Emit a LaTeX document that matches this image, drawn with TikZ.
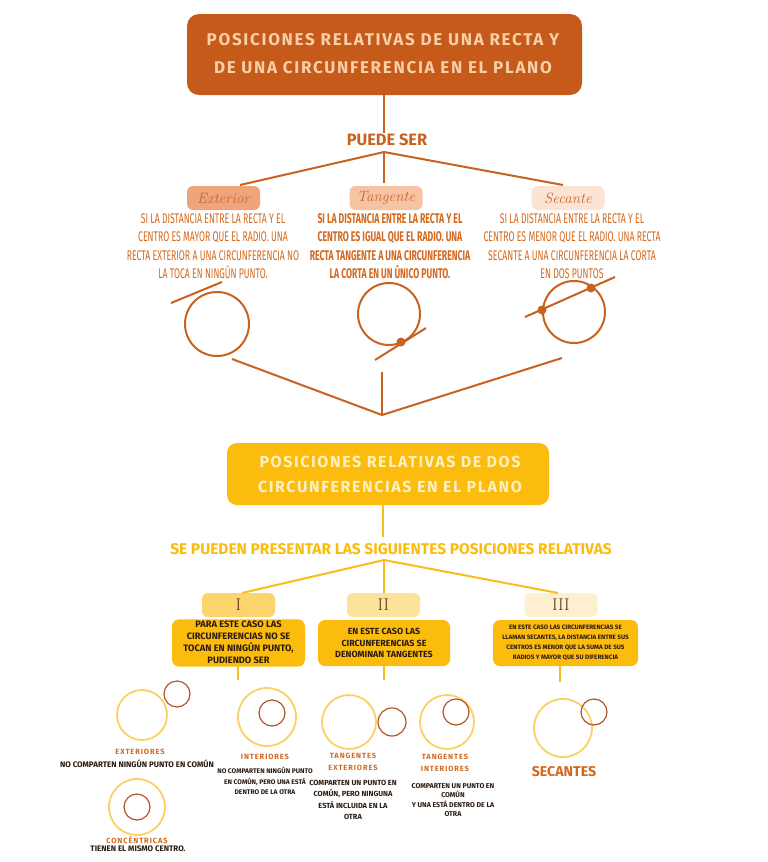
\documentclass[tikz,border=0pt]{standalone}
\usepackage{fontspec}
\setmainfont{Fira Sans}
\newfontfamily\cond[FakeStretch=0.62]{Fira Sans}
\newfontfamily\hand[LetterSpace=10]{Fira Sans}
\newfontfamily\spaced[LetterSpace=12]{Fira Sans}
\newfontfamily\lmr{Latin Modern Roman}
\definecolor{dorange}{HTML}{C55A1A}
\definecolor{peach}{HTML}{F9CFA8}
\definecolor{oline}{HTML}{C8631F}
\definecolor{otext}{HTML}{D2691E}
\definecolor{exfill}{HTML}{EFA57B}
\definecolor{tgfill}{HTML}{F6C4A3}
\definecolor{scfill}{HTML}{FCE4D4}
\definecolor{lbltext}{HTML}{C8652A}
\definecolor{yel}{HTML}{FBBC0E}
\definecolor{yeltext}{HTML}{FFF0C2}
\definecolor{yline}{HTML}{F9BE1A}
\definecolor{ione}{HTML}{FCD46C}
\definecolor{itwo}{HTML}{FDE29B}
\definecolor{ithree}{HTML}{FEF0CE}
\definecolor{roman}{HTML}{5A3A1E}
\definecolor{ycirc}{HTML}{FAD264}
\definecolor{bcirc}{HTML}{B4542B}
\definecolor{dtext}{HTML}{2A1A10}
\tikzset{
  oconn/.style={draw=oline, line width=2pt},
  yconn/.style={draw=yline, line width=2pt},
  ocirc/.style={draw=oline, line width=2pt},
  dotm/.style={circle, fill=oline, inner sep=0pt, minimum size=9pt},
  lblbox/.style={rounded corners=6pt, minimum width=73pt, minimum height=24pt, inner sep=0pt, text=lbltext, font=\lmr\itshape\fontsize{15}{15}\selectfont},
  desc/.style={align=center, text=otext, font=\cond\fontsize{14}{18.5}\selectfont},
  romanbox/.style={rounded corners=6pt, minimum width=73pt, minimum height=24pt, inner sep=0pt, text=roman, font=\lmr\fontsize{17}{17}\selectfont},
  ybox/.style={fill=yel, rounded corners=7pt, inner sep=0pt, align=center, text=dtext},
  yc/.style={draw=ycirc, line width=1.8pt},
  bc/.style={draw=bcirc, line width=1.2pt},
  smlbl/.style={text=otext, font=\spaced\bfseries\fontsize{7.5}{12}\selectfont, align=center},
  smtxt/.style={text=dtext, font=\bfseries\fontsize{8}{10.5}\selectfont, align=center}
}
\begin{document}
\begin{tikzpicture}[x=1pt,y=-1pt]
\useasboundingbox (0,0) rectangle (768,862);
\fill[white] (0,0) rectangle (768,862);
% ---------- top part ----------
\node[fill=dorange, rounded corners=12pt, minimum width=395pt, minimum height=81pt, inner sep=0pt] (title) at (384.5,54.5) {};
\node[text=peach, align=center, font=\hand\bfseries\fontsize{17}{28}\selectfont] (titletext) at (383,54) {POSICIONES RELATIVAS DE UNA RECTA Y\\DE UNA CIRCUNFERENCIA EN EL PLANO};
\node[text=oline, font=\bfseries\fontsize{16.4}{16.4}\selectfont, inner sep=1pt] (puede) at (387,140) {PUEDE SER};
\coordinate (apex1) at (384,152);
\draw[oconn] (title.south -| apex1) -- (puede.north -| apex1);
\node[lblbox, fill=exfill] (ext) at (223.5,198) {Exterior};
\node[lblbox, fill=tgfill] (tan) at (386,198) {Tangente};
\node[lblbox, fill=scfill] (sec) at (568,198) {Secante};
\draw[oconn] (apex1) -- (240,185);
\draw[oconn] (apex1) -- (384,183);
\draw[oconn] (apex1) -- (563,185);
\node[desc] (extd) at (213,246) {SI LA DISTANCIA ENTRE LA RECTA Y EL\\CENTRO ES MAYOR QUE EL RADIO. UNA\\RECTA EXTERIOR A UNA CIRCUNFERENCIA NO\\LA TOCA EN NINGÚN PUNTO.};
\node[desc, font=\cond\bfseries\fontsize{14}{18.5}\selectfont] (tand) at (390,246) {SI LA DISTANCIA ENTRE LA RECTA Y EL\\CENTRO ES IGUAL QUE EL RADIO. UNA\\RECTA TANGENTE A UNA CIRCUNFERENCIA\\LA CORTA EN UN ÚNICO PUNTO.};
\node[desc] (secd) at (572,246) {SI LA DISTANCIA ENTRE LA RECTA Y EL\\CENTRO ES MENOR QUE EL RADIO. UNA RECTA\\SECANTE A UNA CIRCUNFERENCIA LA CORTA\\EN DOS PUNTOS};
% figures
\draw[ocirc] (217,324) circle (32);
\coordinate (e1) at (171,303); \coordinate (e2) at (222,282);
\draw[oconn] (e1) -- (e2);
\draw[ocirc] (389,314) circle (31);
\coordinate (t1) at (375,360); \coordinate (t2) at (426,328);
\draw[oconn] (t1) -- (t2);
\node[dotm] (tdot) at (401,342) {};
\draw[ocirc] (574,312) circle (31);
\coordinate (s1) at (525,317); \coordinate (s2) at (615,277);
\draw[oconn] (s1) -- (s2);
\node[dotm] (sdot1) at (542,310) {};
\node[dotm] (sdot2) at (591,288) {};
% connectors down
\coordinate (apex2) at (382,415);
\coordinate (l1) at (232,359); \coordinate (l2) at (382,372); \coordinate (l3) at (562,358);
\draw[oconn] (l1) -- (apex2) -- (l3);
\draw[oconn] (l2) -- (apex2);
% ---------- bottom part ----------
\node[fill=yel, rounded corners=10pt, minimum width=322pt, minimum height=62pt, inner sep=0pt] (ytitle) at (388,474) {};
\node[text=yeltext, align=center, font=\hand\bfseries\fontsize{16}{25}\selectfont] (ytitletext) at (390,474) {POSICIONES RELATIVAS DE DOS\\CIRCUNFERENCIAS EN EL PLANO};
\node[text=yel, font=\bfseries\fontsize{15.5}{15.5}\selectfont, inner sep=1pt] (sepueden) at (391,549) {SE PUEDEN PRESENTAR LAS SIGUIENTES POSICIONES RELATIVAS};
\draw[yconn] (ytitle.south -| 383,0) -- (383,537);
\coordinate (apex3) at (384,560);
\node[romanbox, fill=ione] (r1) at (238.5,605) {I};
\node[romanbox, fill=itwo] (r2) at (383.5,605) {II};
\node[romanbox, fill=ithree] (r3) at (561,605) {III};
\draw[yconn] (apex3) -- (242,593);
\draw[yconn] (apex3) -- (384,593);
\draw[yconn] (apex3) -- (558,593);
\node[ybox, minimum width=133pt, minimum height=46pt, font=\bfseries\fontsize{9.3}{11.6}\selectfont] (b1) at (238.5,643) {\raisebox{-1.5pt}{\begin{tabular}{@{}c@{}}PARA ESTE CASO LAS\\CIRCUNFERENCIAS NO SE\\TOCAN EN NINGÚN PUNTO,\\PUDIENDO SER\end{tabular}}};
\node[ybox, minimum width=132pt, minimum height=46pt, font=\bfseries\fontsize{8.9}{11.8}\selectfont] (b2) at (384,643) {EN ESTE CASO LAS\\CIRCUNFERENCIAS SE\\DENOMINAN TANGENTES};
\node[ybox, minimum width=145pt, minimum height=46pt, font=\bfseries\fontsize{6.3}{10}\selectfont] (b3) at (565.5,643) {EN ESTE CASO LAS CIRCUNFERENCIAS SE\\LLAMAN SECANTES, LA DISTANCIA ENTRE SUS\\CENTROS ES MENOR QUE LA SUMA DE SUS\\RADIOS Y MAYOR QUE SU DIFERENCIA};
\coordinate (d1) at (238,680); \coordinate (d2) at (384,680); \coordinate (d3) at (560,682);
\draw[yconn] (b1.south -| d1) -- (d1);
\draw[yconn] (b2.south) -- (d2);
\draw[yconn] (b3.south -| d3) -- (d3);
% exteriores
\draw[yc] (142,715) circle (25);
\draw[bc] (177,694) circle (13);
\node[smlbl] (lext) at (140,752) {EXTERIORES};
\node[smtxt] (text) at (137,764) {NO COMPARTEN NINGÚN PUNTO EN COMÚN};
% concentricas
\draw[yc] (137,807) circle (28);
\draw[bc] (137,807) circle (13);
\node[smlbl] (lcon) at (137,840) {CONCÉNTRICAS};
\node[smtxt] (tcon) at (138,849) {TIENEN EL MISMO CENTRO.};
% interiores
\draw[yc] (267,717) circle (29);
\draw[bc] (272,713) circle (13);
\node[smlbl] (lint) at (265,757) {INTERIORES};
\node[smtxt, font=\bfseries\fontsize{6.7}{10.5}\selectfont] (tint) at (265,781) {NO COMPARTEN NINGÚN PUNTO\\EN COMÚN, PERO UNA ESTÁ\\DENTRO DE LA OTRA};
% tangentes exteriores
\draw[yc] (349,722) circle (27);
\draw[bc] (392,722) circle (14);
\node[smlbl] (ltex) at (353,762) {TANGENTES\\EXTERIORES};
\node[smtxt, font=\bfseries\fontsize{7.4}{11.2}\selectfont] (ttex) at (353,800) {COMPARTEN UN PUNTO EN\\COMÚN, PERO NINGUNA\\ESTÁ INCLUIDA EN LA\\OTRA};
% tangentes interiores
\draw[yc] (447,722) circle (27);
\draw[bc] (456,712) circle (13);
\node[smlbl] (ltin) at (445,763) {TANGENTES\\INTERIORES};
\node[smtxt, font=\bfseries\fontsize{7}{9.2}\selectfont] (ttin) at (453,800) {COMPARTEN UN PUNTO EN\\COMÚN\\Y UNA ESTÁ DENTRO DE LA\\OTRA};
% secantes
\draw[yc] (563,728) circle (29);
\draw[bc] (594,712) circle (13);
\node[text=otext, font=\bfseries\fontsize{14.2}{14.2}\selectfont, inner sep=1pt] (lsec) at (564,772) {SECANTES};
\end{tikzpicture}
\end{document}
